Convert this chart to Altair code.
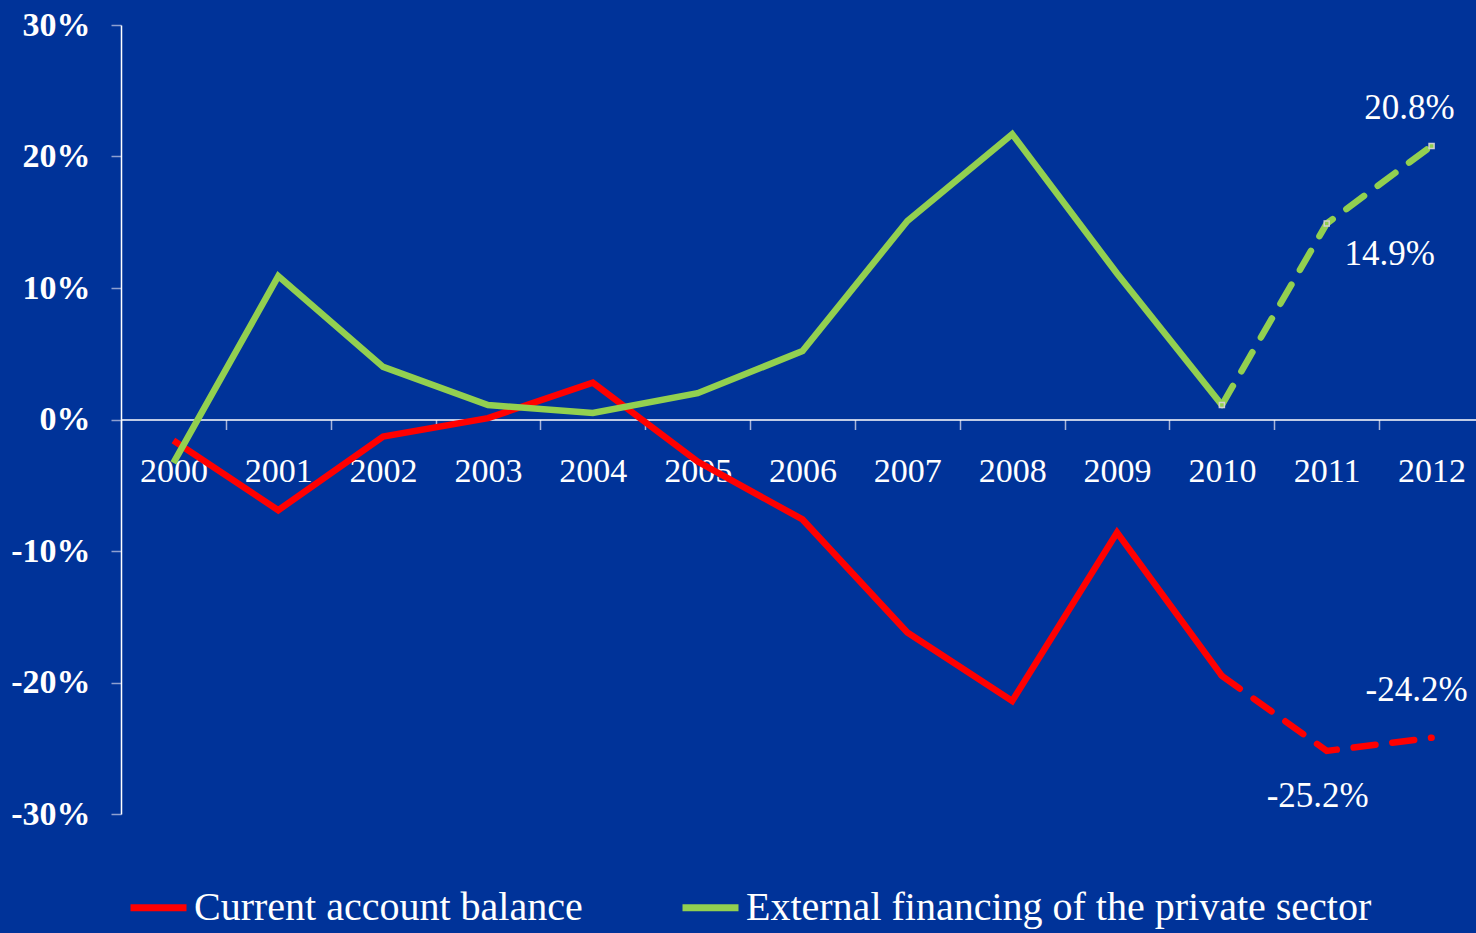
import altair as alt
import pandas as pd

years = [str(y) for y in range(2000, 2013)]
current_account = [-1.6, -6.9, -1.3, 0.1, 2.8, -3.2, -7.6, -16.2, -21.4, -8.6, -19.5, -25.2, -24.2]
external_financing = [-3.3, 10.9, 4.0, 1.1, 0.5, 2.0, 5.2, 15.1, 21.7, 11.1, 1.1, 14.9, 20.8]
series_names = ["Current account balance", "External financing of  the private sector"]
series_colors = ["#ff0000", "#92d050"]
forecast_from = 2010
y_ticks = [-0.3, -0.2, -0.1, 0.0, 0.1, 0.2, 0.3]

BG = "#003399"
FONT = "Liberation Serif"

rows = []
for name, vals in zip(series_names, [current_account, external_financing]):
    for yr, v in zip(years, vals):
        rows.append({"year": yr, "yr": int(yr), "value": v / 100.0, "series": name,
                     "label": f"{v:.1f}%"})
df = pd.DataFrame(rows)
solid = df[df["yr"] <= forecast_from]
dashed = df[df["yr"] >= forecast_from]

W, H = 1355, 789
x_enc = alt.X(
    "year:N",
    scale=alt.Scale(type="band", domain=years, range=[0, 1363], paddingInner=0, paddingOuter=0),
    axis=alt.Axis(
        title=None, offset=-H / 2, tickBand="extent", labelAngle=0,
        domainColor="white", domainWidth=1.5, tickColor="#a8b4d8", tickWidth=1.5, tickSize=10,
        labelColor="white", labelFont=FONT, labelFontSize=34, labelPadding=25,
    ),
)
y_enc = alt.Y(
    "value:Q",
    scale=alt.Scale(domain=[-0.3, 0.3], nice=False, zero=False),
    axis=alt.Axis(
        title=None, values=y_ticks, labelExpr="round(datum.value*100) + '%'",
        domainColor="white", domainWidth=1.5, tickColor="#8fa0d0", tickWidth=1.5, tickSize=10,
        labelColor="white", labelFont=FONT, labelFontSize=34, labelFontWeight="bold",
        labelPadding=21, grid=False,
    ),
)
color_enc = alt.Color(
    "series:N",
    scale=alt.Scale(domain=series_names, range=series_colors),
    legend=alt.Legend(
        title=None, orient="none", direction="horizontal", legendX=6, legendY=851,
        symbolType="stroke", symbolSize=3136, symbolStrokeWidth=7, labelColor="white",
        labelFont=FONT, labelFontSize=40, labelLimit=1000, labelOffset=4,
        columnPadding=85, padding=0,
    ),
)

line_solid = alt.Chart(solid).mark_line(strokeWidth=6.5, strokeJoin="miter").encode(
    x=x_enc, y=y_enc, color=color_enc
)
line_dash = alt.Chart(dashed).mark_line(
    strokeWidth=6.5, strokeDash=[22, 17], strokeCap="round"
).encode(x=x_enc, y=y_enc, color=alt.Color("series:N", scale=alt.Scale(domain=series_names, range=series_colors), legend=None))

green_pts = alt.Chart(dashed[dashed["series"] == series_names[1]]).mark_square(
    size=25, fill="#92d050", stroke="#d0d0d0", strokeWidth=1.5, opacity=1
).encode(x=x_enc, y=y_enc)

def label_layer(series_idx, year, dx, dy):
    sub = df[(df["series"] == series_names[series_idx]) & (df["year"] == year)]
    return alt.Chart(sub).mark_text(
        font=FONT, fontSize=35, color="white", dx=dx, dy=dy, align="center", baseline="middle"
    ).encode(x=x_enc, y=y_enc, text="label:N")

labels = [
    label_layer(1, "2012", -22, -38),
    label_layer(1, "2011", 63, 30),
    label_layer(0, "2012", -15, -48),
    label_layer(0, "2011", -9, 45),
]

chart = alt.layer(line_solid, line_dash, green_pts, *labels).properties(
    width=W, height=H, background=BG,
    autosize=alt.AutoSizeParams(type="none"),
    padding={"left": 121, "top": 25, "right": 0, "bottom": 119},
).configure_view(stroke=None)

chart.save("out.html", embed_options={"renderer": "svg", "actions": False})
